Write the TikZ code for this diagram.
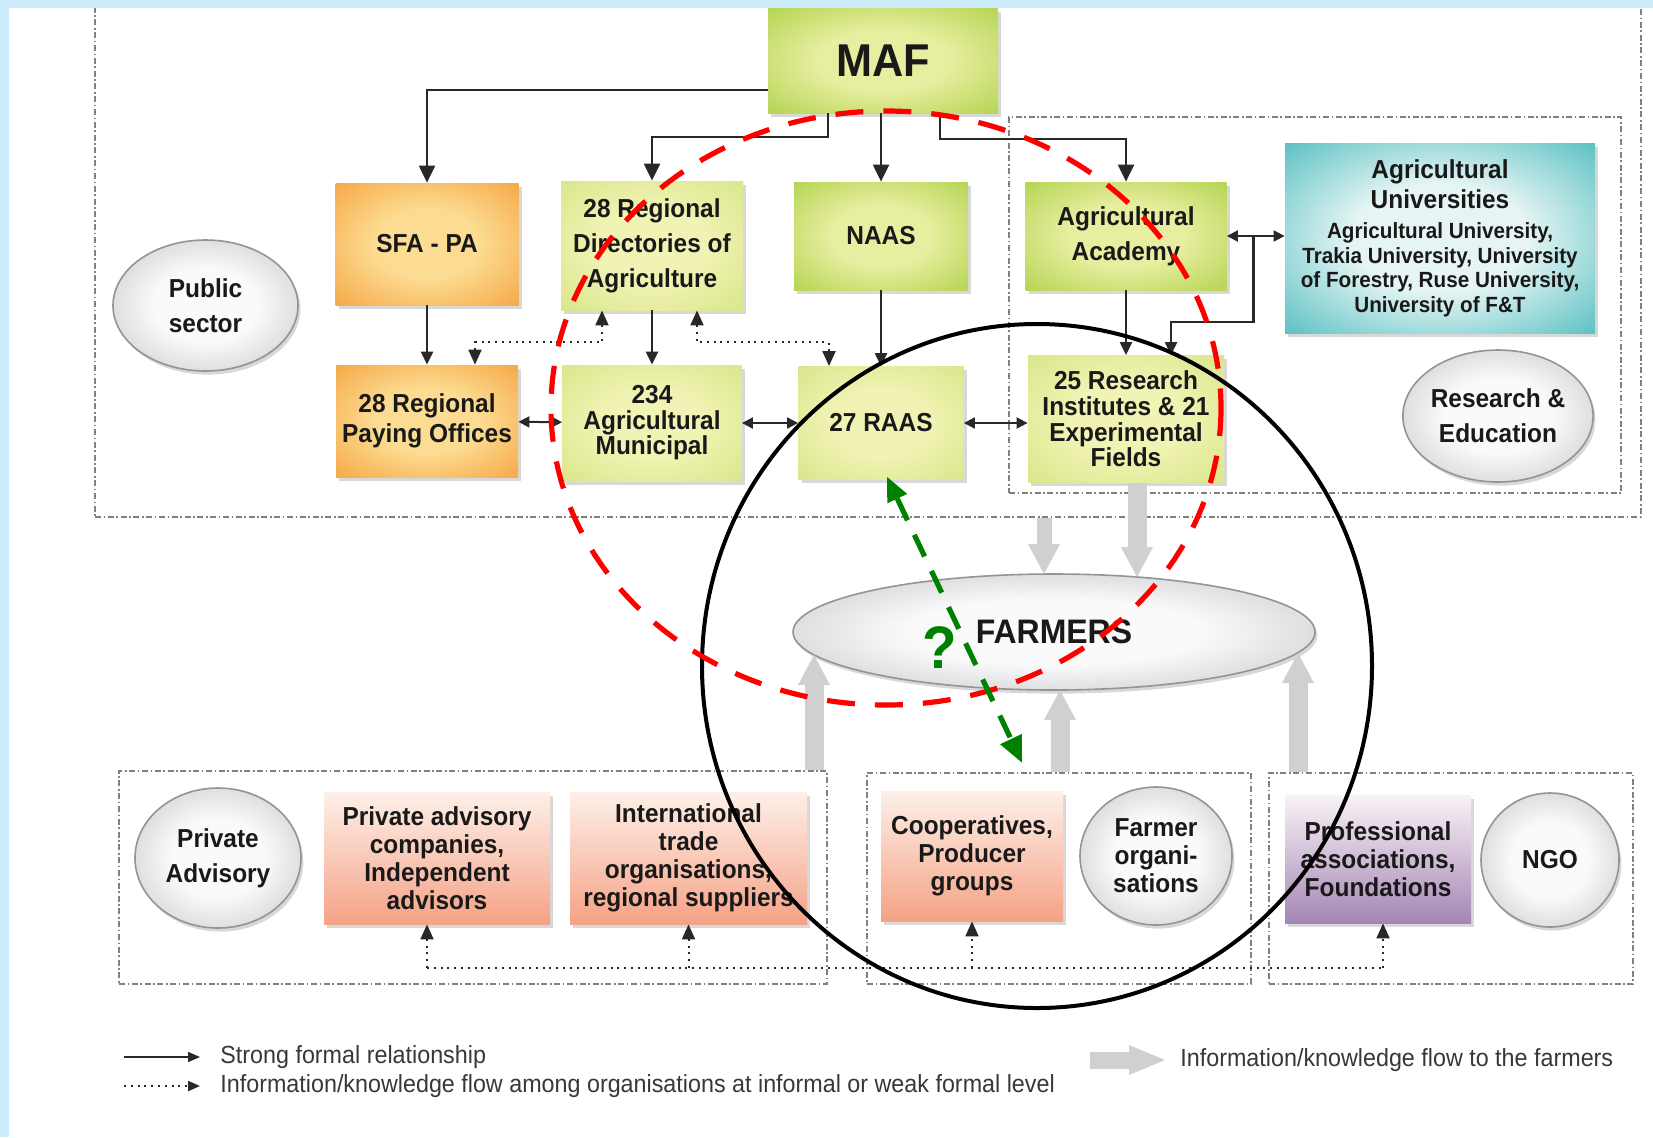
\documentclass[tikz,border=0pt]{standalone}
\usepackage{fontspec}
\setmainfont{Liberation Sans}[FakeStretch=0.94]
\usetikzlibrary{arrows.meta,shadows,calc,shapes.geometric}

\definecolor{skyband}{RGB}{204,236,251}
\definecolor{leafgreen}{RGB}{160,202,52}
\definecolor{leafpale}{RGB}{232,238,160}
\definecolor{sagegreen}{RGB}{208,225,122}
\definecolor{sagepale}{RGB}{241,243,180}
\definecolor{orangeedge}{RGB}{243,148,42}
\definecolor{orangepale}{RGB}{252,220,146}
\definecolor{tealedge}{RGB}{36,172,175}
\definecolor{tealpale}{RGB}{230,245,244}
\definecolor{salmontop}{RGB}{253,240,232}
\definecolor{salmonbot}{RGB}{245,162,134}
\definecolor{lilactop}{RGB}{249,242,246}
\definecolor{lilacbot}{RGB}{164,134,180}
\definecolor{ballpale}{RGB}{250,250,250}
\definecolor{balledge}{RGB}{176,176,182}
\definecolor{flowgray}{RGB}{208,208,208}
\definecolor{inkgray}{RGB}{40,40,40}
\definecolor{qgreen}{RGB}{0,128,0}

\colorlet{glowin}{white}
\colorlet{glowout}{gray}
\pgfdeclareradialshading[glowin,glowout]{glow}{\pgfpoint{0bp}{0bp}}{%
  color(0bp)=(glowin); color(14bp)=(glowin); color(44bp)=(glowout); color(72bp)=(glowout)}

\tikzset{
  glowfill/.style 2 args={/utils/exec={\colorlet{glowin}{#1}\colorlet{glowout}{#2}}, shading=glow},
  card/.style={rectangle, align=center, inner sep=1pt, text=black!90,
    font=\bfseries\fontsize{13}{14}\selectfont,
    drop shadow={opacity=.3, shadow xshift=1.5pt, shadow yshift=-1.8pt}},
  airy/.style={font=\bfseries\fontsize{13}{17.5}\selectfont},
  snug/.style={font=\bfseries\fontsize{13}{12.8}\selectfont},
  ministry/.style={card, glowfill={leafpale}{leafgreen}},
  agency/.style={card, glowfill={sagepale}{sagegreen}},
  payer/.style={card, glowfill={orangepale}{orangeedge}},
  academic/.style={card, glowfill={tealpale}{tealedge}},
  private/.style={card, top color=salmontop, bottom color=salmonbot},
  civic/.style={card, top color=lilactop, bottom color=lilacbot},
  sector/.style={ellipse, draw=black!42, line width=.8pt, align=center, inner sep=0pt,
    text=black!90, font=\bfseries\fontsize{13}{17.5}\selectfont, glowfill={ballpale}{balledge},
    drop shadow={opacity=.3, shadow xshift=1.2pt, shadow yshift=-1.8pt}},
  groupbox/.style={draw=black!50, line width=.6pt, inner sep=0pt,
    dash pattern=on 3pt off 1.3pt on .8pt off 1.3pt},
  strong/.style={draw=inkgray, line width=1.1pt, -{Triangle[length=8.5pt,width=8pt]}},
  minor/.style={strong, -{Triangle[length=6.5pt,width=6pt]}},
  both/.style={draw=inkgray, line width=1pt,
    {Triangle[length=5.5pt,width=5.5pt]}-{Triangle[length=5.5pt,width=5.5pt]}},
  info/.style={draw=inkgray, line width=1pt, dash pattern=on 1pt off 2.4pt},
  infoarrow/.style={info, -{Triangle[length=7.5pt,width=6.5pt]}},
  infoboth/.style={info, {Triangle[length=7.5pt,width=6.5pt]}-{Triangle[length=7.5pt,width=6.5pt]}},
  feed/.style={draw=flowgray, line width=9.5pt, -{Triangle[length=15pt,width=16pt,line width=0pt]}},
  query/.style={draw=qgreen, line width=2.6pt, dash pattern=on 12pt off 8pt,
    {Triangle[length=12pt,width=11pt,line width=0pt]}-{Triangle[length=13pt,width=12pt,line width=0pt]}},
  redring/.style={draw=red, line width=2.6pt, dash pattern=on 14pt off 10pt},
  blackring/.style={draw=black, line width=2pt},
  legend/.style={anchor=west, inner sep=0pt, text=black!78, font=\fontsize{12.4}{14}\selectfont}
}

\begin{document}
\begin{tikzpicture}[x=0.5pt,y=-0.5pt]
\useasboundingbox (0,0) rectangle (1653,1137);
\fill[skyband] (0,0) rectangle (1653,1137);
\fill[white] (9,8) rectangle (1653,1137);

% group frames
\node[groupbox, minimum width=773pt, minimum height=257pt] (pubgrp) at (868,260) {};
\node[groupbox, minimum width=306pt, minimum height=188pt] (resgrp) at (1315,305) {};
\node[groupbox, minimum width=354pt, minimum height=106.5pt] (privgrp) at (473,877.5) {};
\node[groupbox, minimum width=192pt, minimum height=105.5pt] (coopgrp) at (1059,878.5) {};
\node[groupbox, minimum width=182pt, minimum height=105.5pt] (progrp) at (1451,878.5) {};
\fill[skyband] (0,0) rectangle (1653,8);

% public sector
\node[ministry, font=\bfseries\fontsize{23}{26}\selectfont, minimum width=115pt, minimum height=52.5pt] (maf) at (883,60.5) {MAF};
\node[payer, minimum width=91.5pt, minimum height=61pt] (sfa) at (427,244) {SFA - PA};
\node[agency, airy, minimum width=91pt, minimum height=64.5pt] (dir) at (652,245.5) {28 Regional\\Directories of\\Agriculture};
\node[ministry, minimum width=87pt, minimum height=54pt] (naas) at (881,236) {NAAS};
\node[ministry, airy, minimum width=100.5pt, minimum height=54pt] (aca) at (1126,236) {Agricultural\\Academy};
\node[academic, font=\bfseries\fontsize{13}{12.25}\selectfont, minimum width=155pt, minimum height=95pt] (uni) at (1440,238)
  {Agricultural\\[3pt]Universities\\[2.75pt]%
   \fontsize{11}{12.25}\selectfont Agricultural University,\\
   \fontsize{11}{12.25}\selectfont Trakia University, University\\
   \fontsize{11}{12.25}\selectfont of Forestry, Ruse University,\\
   \fontsize{11}{12.25}\selectfont University of F\&T};
\node[payer, font=\bfseries\fontsize{13}{15}\selectfont, minimum width=91pt, minimum height=56pt] (pay) at (427,421) {28 Regional\\Paying Offices};
\node[agency, snug, minimum width=89.5pt, minimum height=58pt] (mun) at (652,423) {234\\Agricultural\\Municipal};
\node[agency, minimum width=82.5pt, minimum height=56.5pt] (raas) at (881,423) {27 RAAS};
\node[agency, snug, minimum width=98pt, minimum height=63.5pt] (ri) at (1126,419) {25 Research\\Institutes \& 21\\Experimental\\Fields};
\node[sector, minimum width=92.5pt, minimum height=65.5pt] (pub) at (205.5,305.5) {Public\\sector};
\node[sector, minimum width=93.5pt, minimum height=66pt] (rne) at (1498,416) {Research \&\\Education};

% farmers and the others
\node[sector, font=\bfseries\fontsize{17}{20}\selectfont, minimum width=261pt, minimum height=58pt] (farm) at (1054,632) {FARMERS};
\node[sector, minimum width=83pt, minimum height=70pt] (priv) at (218,858) {Private\\Advisory};
\node[private, minimum width=113pt, minimum height=66pt] (pac) at (437,858) {Private advisory\\companies,\\Independent\\advisors};
\node[private, minimum width=118.5pt, minimum height=66pt] (itr) at (688.5,858) {International\\trade\\organisations,\\regional suppliers};
\node[private, minimum width=91pt, minimum height=65pt] (coop) at (972,856) {Cooperatives,\\Producer\\groups};
\node[sector, font=\bfseries\fontsize{13}{14}\selectfont, minimum width=76pt, minimum height=69pt] (fo) at (1156,856) {Farmer\\organi-\\sations};
\node[civic, minimum width=93pt, minimum height=64pt] (pro) at (1378,859) {Professional\\associations,\\Foundations};
\node[sector, minimum width=69pt, minimum height=67pt] (ngo) at (1550,860) {NGO};

% formal links
\draw[strong] (maf.west |- 0,90) -| (sfa);
\draw[strong] ([xshift=-27.5pt]maf.south) |- ([yshift=22pt]dir.north) -- (dir.north);
\draw[strong] (maf.south -| naas.north) -- (naas.north);
\draw[strong] ([xshift=28.5pt]maf.south) |- ([yshift=21.5pt]aca.north) -- (aca.north);
\path (sfa) edge[minor] (pay)
      (dir) edge[minor] (mun)
      (naas) edge[minor] (raas)
      (aca) edge[minor] (ri)
      (pay) edge[both] (mun)
      (mun) edge[both] (raas)
      (raas.east) edge[both] (raas.east -| ri.west)
      (aca.east) edge[both] (aca.east -| uni.west);
\coordinate (junc) at ($(aca.east)!.46!(aca.east -| uni.west)$);
\draw[minor] (junc) -- ++(0,86) -| ([xshift=22.5pt]ri.north);

% weak links
\draw[infoboth] ([xshift=-25pt]dir.south) -- ++(0,32) -| ([xshift=24pt]pay.north);
\draw[infoboth] ([xshift=22.5pt]dir.south) -- ++(0,32) -| ([xshift=-26pt]raas.north);
\coordinate (bus) at (0,968);
\draw[info] ([xshift=-5pt]pac.south |- bus) -- ([xshift=2.5pt]pro.south |- bus);
\draw[infoarrow] ([xshift=-5pt]pac.south |- bus) -- ([xshift=-5pt]pac.south);
\draw[infoarrow] (itr.south |- bus) -- (itr.south);
\draw[infoarrow] (coop.south |- bus) -- (coop.south);
\draw[infoarrow] ([xshift=2.5pt]pro.south |- bus) -- ([xshift=2.5pt]pro.south);

% flows to the farmers
\coordinate (fa) at ($(farm)+(-10,-58)$);
\coordinate (fb) at ($(farm)+(83,-55)$);
\coordinate (fc) at ($(farm)+(-240,23)$);
\coordinate (fd) at ($(farm)+(6,58)$);
\coordinate (fe) at ($(farm)+(244,21)$);
\draw[feed, line width=7.5pt] (pubgrp.south -| fa) -- (fa);
\draw[feed] (ri.south -| fb) -- (fb);
\draw[feed] (privgrp.north -| fc) -- (fc);
\draw[feed] (coopgrp.north -| fd) -- (fd);
\draw[feed] (progrp.north -| fe) -- (fe);

% marks
\draw[blackring] (1037,666) ellipse [x radius=335, y radius=342];
\draw[redring] (886,408) ellipse [x radius=335, y radius=297];
\draw[query] ([xshift=3pt,yshift=1.5pt]raas.south) -- ([shift={(25pt,14pt)}]coop.north);
\node[text=qgreen, font=\bfseries\fontsize{30}{30}\selectfont, inner sep=0pt] (qmark) at (940,648) {?};

% legend
\node[legend] (lgstrong) at (220,1057) {Strong formal relationship};
\node[legend] (lginfo) at (220,1086) {Information/knowledge flow among organisations at informal or weak formal level};
\node[legend] (lgfeed) at (1180,1060) {Information/knowledge flow to the farmers};
\draw[strong, line width=.8pt, -{Triangle[length=6pt,width=5pt]}] ([xshift=-48pt]lgstrong.west) -- ([xshift=-10pt]lgstrong.west);
\draw[infoarrow, -{Triangle[length=6pt,width=5pt]}] ([xshift=-48pt]lginfo.west) -- ([xshift=-10pt]lginfo.west);
\draw[feed, line width=8.5pt, -{Triangle[length=18pt,width=15pt,line width=0pt]}] ([xshift=-45pt]lgfeed.west) -- ([xshift=-7.5pt]lgfeed.west);
\end{tikzpicture}
\end{document}
